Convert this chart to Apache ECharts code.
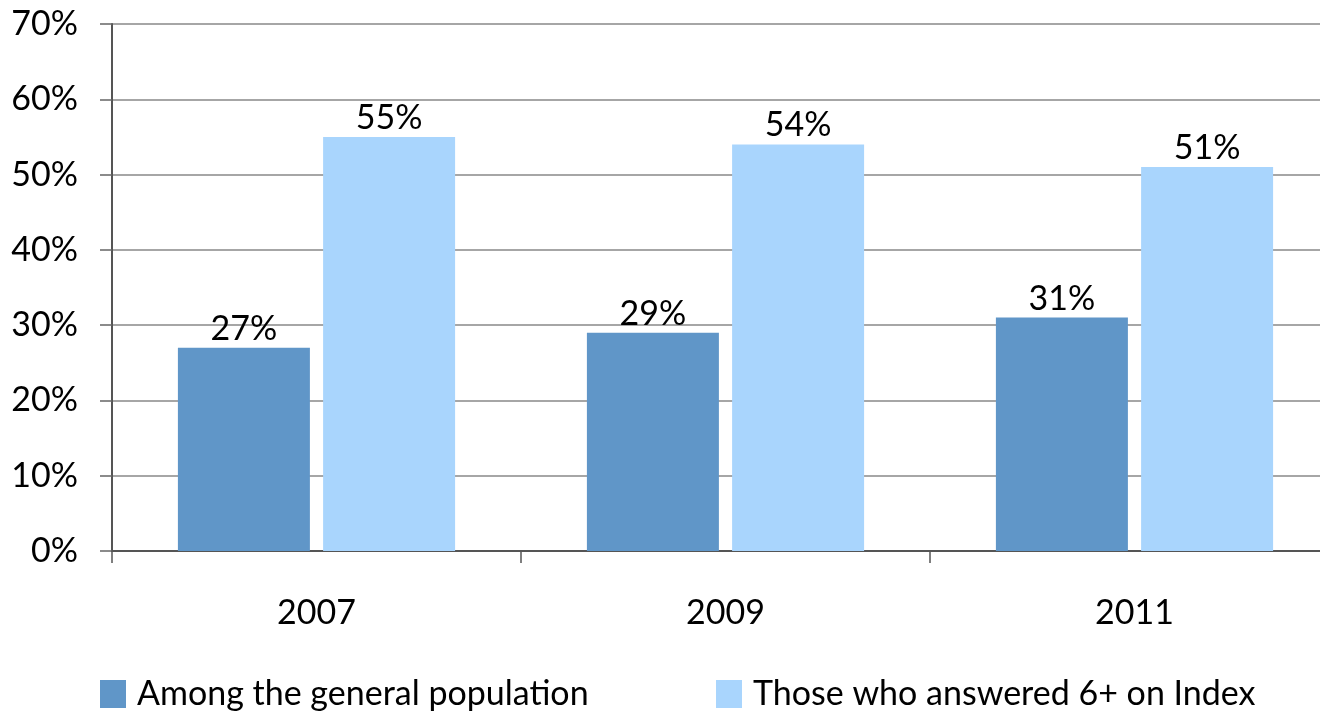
<!DOCTYPE html>
<html>
<head>
<meta charset="utf-8">
<script src="https://cdn.jsdelivr.net/npm/echarts@6/dist/echarts.min.js"></script>
<style>html,body{margin:0;padding:0;background:#fff;overflow:hidden}#c{width:1340px;height:714px}</style>
</head>
<body>
<div id="c"></div>
<script>
const categories = ['2007', '2009', '2011'];
const generalPopulation = [27, 29, 31];
const answered6Plus = [55, 54, 51];
const seriesNames = ['Among the general population', 'Those who answered 6+ on Index'];

const FONT = 'Lato';
const FS = 34;
const chart = echarts.init(document.getElementById('c'), null, {renderer: 'canvas'});
const labelStyle = {show: true, position: 'top', distance: 2, color: '#000', fontSize: FS, fontFamily: FONT, formatter: p => p.value + '%'};
const legendBase = {padding: 0, top: 677, itemWidth: 26, itemHeight: 28, itemGap: 12, icon: 'rect',
  textStyle: {fontSize: FS, fontFamily: FONT, color: '#000', padding: [0, 0, 0, 6]}};
chart.setOption({
  animation: false,
  grid: {left: 112, width: 1227, top: 24, height: 527, containLabel: false},
  legend: [
    Object.assign({}, legendBase, {data: [seriesNames[0]], left: 100}),
    Object.assign({}, legendBase, {data: [seriesNames[1]], left: 716})
  ],
  xAxis: {
    type: 'category', data: categories, boundaryGap: true,
    axisLine: {lineStyle: {color: '#555', width: 2}},
    axisTick: {show: true, length: 12, lineStyle: {color: '#555', width: 1.5}},
    axisLabel: {margin: 45, fontSize: FS, fontFamily: FONT, color: '#000'}
  },
  yAxis: {
    type: 'value', min: 0, max: 70, interval: 10,
    axisLine: {show: true, lineStyle: {color: '#555', width: 2}},
    axisTick: {show: true, length: 12, lineStyle: {color: '#666', width: 1.5}},
    axisLabel: {margin: 34, fontSize: FS, fontFamily: FONT, color: '#000', formatter: v => v + '%'},
    splitLine: {show: true, lineStyle: {color: '#a6a6a6', width: 2}}
  },
  series: [
    {name: seriesNames[0], type: 'bar', data: generalPopulation, barWidth: 132, barGap: '10%',
     itemStyle: {color: '#6096c8'}, label: labelStyle},
    {name: seriesNames[1], type: 'bar', data: answered6Plus, barWidth: 132, barGap: '10%',
     itemStyle: {color: '#a9d5fd'}, label: labelStyle}
  ]
});
</script>
</body>
</html>
